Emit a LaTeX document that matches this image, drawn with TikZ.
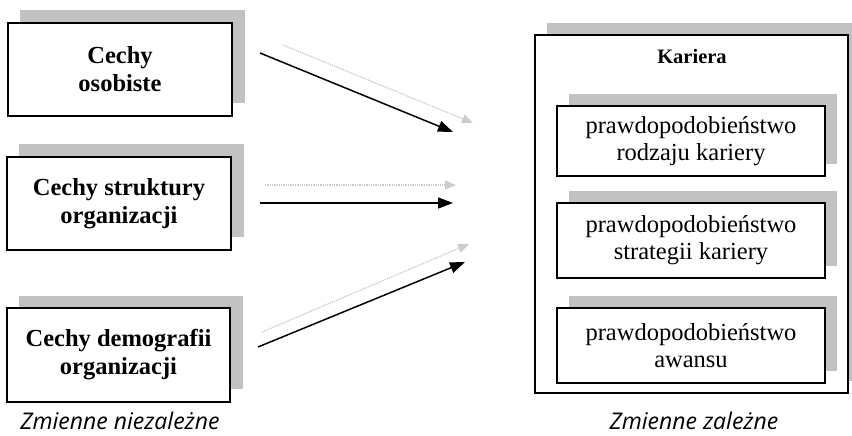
\documentclass[tikz,border=0pt]{standalone}
\usepackage{fontspec}
\setmainfont{Liberation Serif}
\newfontfamily\labelfont{Open Sans}
\usetikzlibrary{arrows.meta}

\tikzset{
  shadowfill/.style={fill=black!24, draw=none},
  causebox/.style={draw, line width=1.2pt, fill=white, align=center,
    font=\fontsize{24.5}{28}\selectfont\bfseries},
  outcomebox/.style={draw, line width=1.2pt, fill=white, align=center,
    font=\fontsize{24.5}{27}\selectfont},
  bigbox/.style={draw, line width=1.2pt, fill=white},
  mainarrow/.style={line width=1.5pt, -{Triangle[length=15pt,width=11pt]}},
  ghostarrow/.style={line width=1.3pt, black!20, densely dotted,
    -{Triangle[length=11pt,width=9pt]}},
  caption/.style={font=\fontsize{23}{26}\selectfont\labelfont\itshape},
}

\begin{document}
\begin{tikzpicture}[x=1pt, y=-1pt]
  \useasboundingbox (0,0) rectangle (852,436);

  % drop shadows (offset up and to the right)
  \fill[shadowfill] (20,10) rectangle (245,103);
  \fill[shadowfill] (19,144) rectangle (244,237);
  \fill[shadowfill] (19,296) rectangle (243,389);
  \begin{scope}
    \clip (0,0) rectangle (852,436);
    \fill[shadowfill] (547,23) rectangle (862,381);
  \end{scope}

  % independent variables
  \node[causebox, minimum width=224pt, minimum height=93pt] (os) at (120,69.5) {Cechy\\osobiste};
  \node[causebox, minimum width=224pt, minimum height=93pt] (st) at (119,203.5) {Cechy struktury\\organizacji};
  \node[causebox, minimum width=223pt, minimum height=94pt] (dm) at (118.5,355) {Cechy demografii\\organizacji};

  % dependent variables container
  \node[bigbox, minimum width=313pt, minimum height=358pt] (kar) at (691.5,214) {};
  \node[font=\fontsize{20.5}{22}\selectfont\bfseries] (kt) at (692,56) {Kariera};

  \fill[shadowfill] (569,94) rectangle (837,164);
  \fill[shadowfill] (569,191) rectangle (837,266);
  \fill[shadowfill] (569,296) rectangle (837,371);

  \node[outcomebox, minimum width=268pt, minimum height=70pt] (rk) at (691,141) {prawdopodobieństwo\\rodzaju kariery};
  \node[outcomebox, minimum width=268pt, minimum height=75pt] (sk) at (691,240.5) {prawdopodobieństwo\\strategii kariery};
  \node[outcomebox, minimum width=268pt, minimum height=75pt] (aw) at (691,345.5) {prawdopodobieństwo\\awansu};

  % arrow end points
  \coordinate (a1s) at (260,53);  \coordinate (a1e) at (453,132);
  \coordinate (g1s) at (283,45);  \coordinate (g1e) at (473,123);
  \coordinate (a2s) at (260,203); \coordinate (a2e) at (453,203);
  \coordinate (g2s) at (265,185); \coordinate (g2e) at (456,185);
  \coordinate (a3s) at (258,347); \coordinate (a3e) at (465,262);
  \coordinate (g3s) at (262,332); \coordinate (g3e) at (469,244);

  % faint ghost arrows behind
  \draw[ghostarrow] (g1s) -- (g1e);
  \draw[ghostarrow] (g2s) -- (g2e);
  \draw[ghostarrow] (g3s) -- (g3e);

  % main arrows
  \draw[mainarrow] (a1s) -- (a1e);
  \draw[mainarrow] (a2s) -- (a2e);
  \draw[mainarrow] (a3s) -- (a3e);

  % captions
  \node[caption, anchor=base] (cl) at (120,429) {Zmienne niezależne};
  \node[caption, anchor=base] (cr) at (694,429) {Zmienne zależne};
\end{tikzpicture}
\end{document}
